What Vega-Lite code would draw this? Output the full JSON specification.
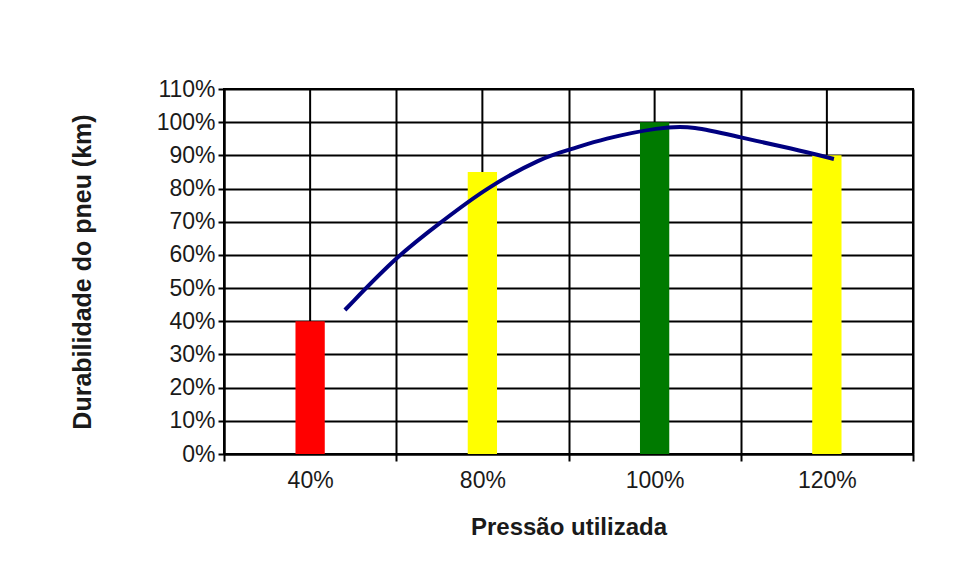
{
  "$schema": "https://vega.github.io/schema/vega-lite/v6.json",
  "autosize": {"type": "none"},
  "width": 689,
  "height": 365,
  "padding": {"left": 224, "top": 89, "right": 67, "bottom": 123},
  "background": "white",
  "config": {
    "font": "Liberation Sans",
    "view": {"stroke": "black", "strokeWidth": 2},
    "axis": {"labelFont": "Liberation Sans", "titleFont": "Liberation Sans", "labelColor": "#1a1a1a", "titleColor": "#1a1a1a"},
    "axisY": {
      "titleFontSize": 25, "titleFontWeight": "bold", "titlePadding": 61,
      "values": [0, 0.1, 0.2, 0.3, 0.4, 0.5, 0.6, 0.7, 0.8, 0.9, 1.0, 1.1],
      "format": ".0%", "labelFontSize": 23, "labelPadding": 3, "labelOverlap": false,
      "tickSize": 6, "tickColor": "black", "tickWidth": 2,
      "grid": true, "gridColor": "black", "gridWidth": 2,
      "domainColor": "black", "domainWidth": 2
    }
  },
  "datasets": {
    "bars": [
      {"pressao": "40%", "durabilidade": 0.40, "cor": "vermelho"},
      {"pressao": "80%", "durabilidade": 0.85, "cor": "amarelo"},
      {"pressao": "100%", "durabilidade": 1.00, "cor": "verde"},
      {"pressao": "120%", "durabilidade": 0.90, "cor": "amarelo"}
    ],
    "curve": [
      {"u": 0.702, "v": 0.434},
      {"u": 1.010, "v": 0.60},
      {"u": 1.264, "v": 0.70},
      {"u": 1.515, "v": 0.80},
      {"u": 1.852, "v": 0.895},
      {"u": 2.009, "v": 0.917},
      {"u": 2.2, "v": 0.95},
      {"u": 2.531, "v": 0.985},
      {"u": 2.72, "v": 0.989},
      {"u": 2.996, "v": 0.954},
      {"u": 3.303, "v": 0.92},
      {"u": 3.541, "v": 0.889}
    ]
  },
  "layer": [
    {
      "data": {"name": "bars"},
      "layer": [
        {
          "mark": {"type": "rule", "color": "black", "strokeWidth": 2},
          "encoding": {
            "x": {
              "field": "pressao", "type": "nominal",
              "sort": ["40%", "80%", "100%", "120%"],
              "scale": {"paddingInner": 0, "paddingOuter": 0},
              "axis": {
                "title": "Pressão utilizada",
                "titleFontSize": 24, "titleFontWeight": "bold", "titlePadding": 23,
                "labelFontSize": 23, "labelAngle": 0, "labelPadding": 8,
                "tickBand": "extent", "tickSize": 7, "tickColor": "black", "tickWidth": 2,
                "grid": true, "gridColor": "black", "gridWidth": 2,
                "domainColor": "black", "domainWidth": 2
              }
            }
          }
        },
        {
          "mark": {"type": "bar", "width": {"band": 0.17}},
          "encoding": {
            "x": {"field": "pressao", "type": "nominal", "sort": ["40%", "80%", "100%", "120%"]},
            "y": {
              "field": "durabilidade", "type": "quantitative",
              "scale": {"domain": [0, 1.1], "nice": false},
              "axis": {"title": "Durabilidade do pneu (km)"}
            },
            "color": {
              "field": "cor", "type": "nominal",
              "scale": {"domain": ["vermelho", "amarelo", "verde"], "range": ["#ff0000", "#ffff00", "#007a00"]},
              "legend": null
            }
          }
        }
      ]
    },
    {
      "data": {"name": "curve"},
      "mark": {"type": "line", "color": "#000080", "strokeWidth": 4, "interpolate": "basis"},
      "encoding": {
        "x": {"field": "u", "type": "quantitative", "scale": {"domain": [0, 4], "nice": false}, "axis": null},
        "y": {"field": "v", "type": "quantitative", "scale": {"domain": [0, 1.1], "nice": false}, "axis": {"title": "Durabilidade do pneu (km)"}}
      }
    }
  ],
  "resolve": {"scale": {"x": "independent"}}
}
